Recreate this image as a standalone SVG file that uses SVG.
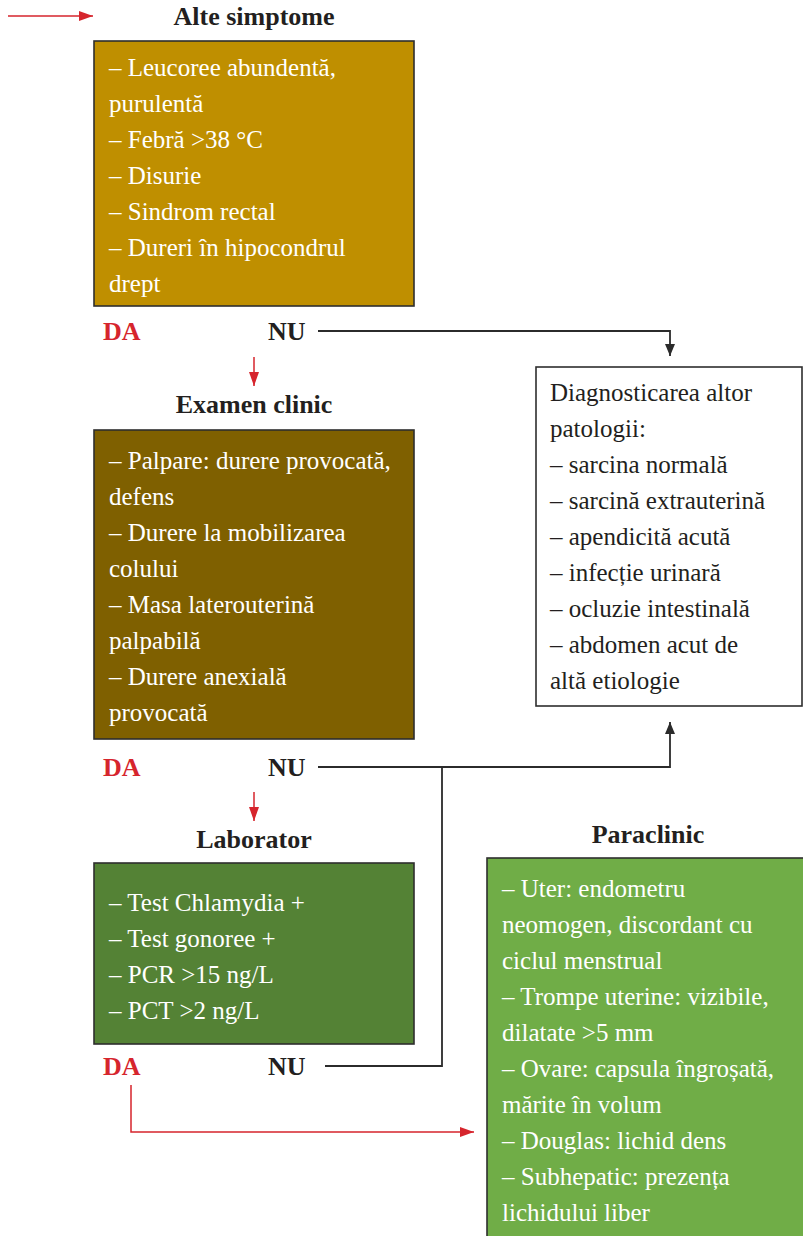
<svg xmlns="http://www.w3.org/2000/svg" width="803" height="1236" viewBox="0 0 803 1236">
<style>
text{font-family:'Liberation Serif',serif;}
.t{font-size:25px;fill:#ffffff;}
.d{font-size:25px;fill:#231f20;}
.h{font-size:26px;font-weight:bold;fill:#231f20;text-anchor:middle;}
.da{font-size:26px;font-weight:bold;fill:#d6252d;}
.nu{font-size:26px;font-weight:bold;fill:#231f20;}
.box{stroke:#2e2e2e;stroke-width:1.6;}
.k{fill:none;stroke:#2b2b2b;stroke-width:1.8;}
.r{fill:none;stroke:#d6252d;stroke-width:1.5;}
</style>
<defs>
<marker id="ak" viewBox="0 0 12 10" refX="12" refY="5" markerWidth="12" markerHeight="10" markerUnits="userSpaceOnUse" orient="auto"><path d="M0,0 L12,5 L0,10 Z" fill="#2b2b2b"/></marker>
<marker id="ar" viewBox="0 0 14 10" refX="14" refY="5" markerWidth="14" markerHeight="10" markerUnits="userSpaceOnUse" orient="auto"><path d="M0,0 L14,5 L0,10 Z" fill="#d6252d"/></marker>
</defs>

<g id="connectors">
<path class="r" d="M8,16 H93" marker-end="url(#ar)"/>
<path class="k" d="M318,331 H670 V356" marker-end="url(#ak)"/>
<path class="r" d="M254,357 V386" marker-end="url(#ar)"/>
<path class="k" d="M318,767 H670 V722" marker-end="url(#ak)"/>
<path class="k" d="M442,767 V1066 H325"/>
<path class="r" d="M254,792 V821" marker-end="url(#ar)"/>
<path class="r" d="M131,1085 V1132 H474" marker-end="url(#ar)"/>
</g>

<g id="alte-simptome">
<text class="h" x="254" y="25">Alte simptome</text>
<rect class="box" x="94" y="41" width="320" height="265" fill="#bf8f00"/>
<text class="t" x="109" y="76">– Leucoree abundentă,</text>
<text class="t" x="109" y="112">purulentă</text>
<text class="t" x="109" y="148">– Febră &gt;38 °C</text>
<text class="t" x="109" y="184">– Disurie</text>
<text class="t" x="109" y="220">– Sindrom rectal</text>
<text class="t" x="109" y="256">– Dureri în hipocondrul</text>
<text class="t" x="109" y="292">drept</text>
</g>
<g id="label-1">
<text class="da" x="103" y="340">DA</text>
<text class="nu" x="268" y="340">NU</text>
</g>

<g id="examen-clinic">
<text class="h" x="254" y="413">Examen clinic</text>
<rect class="box" x="94" y="430" width="320" height="309" fill="#7f6000"/>
<text class="t" x="109" y="469">– Palpare: durere provocată,</text>
<text class="t" x="109" y="505">defens</text>
<text class="t" x="109" y="541">– Durere la mobilizarea</text>
<text class="t" x="109" y="577">colului</text>
<text class="t" x="109" y="613">– Masa laterouterină</text>
<text class="t" x="109" y="649">palpabilă</text>
<text class="t" x="109" y="685">– Durere anexială</text>
<text class="t" x="109" y="721">provocată</text>
</g>
<g id="label-2">
<text class="da" x="103" y="776">DA</text>
<text class="nu" x="268" y="776">NU</text>
</g>

<g id="laborator">
<text class="h" x="254" y="848">Laborator</text>
<rect class="box" x="94" y="863" width="320" height="181" fill="#548235"/>
<text class="t" x="109" y="911">– Test Chlamydia +</text>
<text class="t" x="109" y="947">– Test gonoree +</text>
<text class="t" x="109" y="983">– PCR &gt;15 ng/L</text>
<text class="t" x="109" y="1019">– PCT &gt;2 ng/L</text>
</g>
<g id="label-3">
<text class="da" x="103" y="1075">DA</text>
<text class="nu" x="268" y="1075">NU</text>
</g>

<g id="diagnosticare">
<rect class="box" x="536" y="367" width="266" height="339" fill="#ffffff"/>
<text class="d" x="550" y="401">Diagnosticarea altor</text>
<text class="d" x="550" y="437">patologii:</text>
<text class="d" x="550" y="473">– sarcina normală</text>
<text class="d" x="550" y="509">– sarcină extrauterină</text>
<text class="d" x="550" y="545">– apendicită acută</text>
<text class="d" x="550" y="581">– infecție urinară</text>
<text class="d" x="550" y="617">– ocluzie intestinală</text>
<text class="d" x="550" y="653">– abdomen acut de</text>
<text class="d" x="550" y="689">altă etiologie</text>
</g>

<g id="paraclinic">
<text class="h" x="648" y="843">Paraclinic</text>
<rect class="box" x="487" y="858" width="318" height="382" fill="#70ad47"/>
<text class="t" x="502" y="897">– Uter: endometru</text>
<text class="t" x="502" y="933">neomogen, discordant cu</text>
<text class="t" x="502" y="969">ciclul menstrual</text>
<text class="t" x="502" y="1005">– Trompe uterine: vizibile,</text>
<text class="t" x="502" y="1041">dilatate &gt;5 mm</text>
<text class="t" x="502" y="1077">– Ovare: capsula îngroșată,</text>
<text class="t" x="502" y="1113">mărite în volum</text>
<text class="t" x="502" y="1149">– Douglas: lichid dens</text>
<text class="t" x="502" y="1185">– Subhepatic: prezența</text>
<text class="t" x="502" y="1221">lichidului liber</text>
</g>
</svg>
